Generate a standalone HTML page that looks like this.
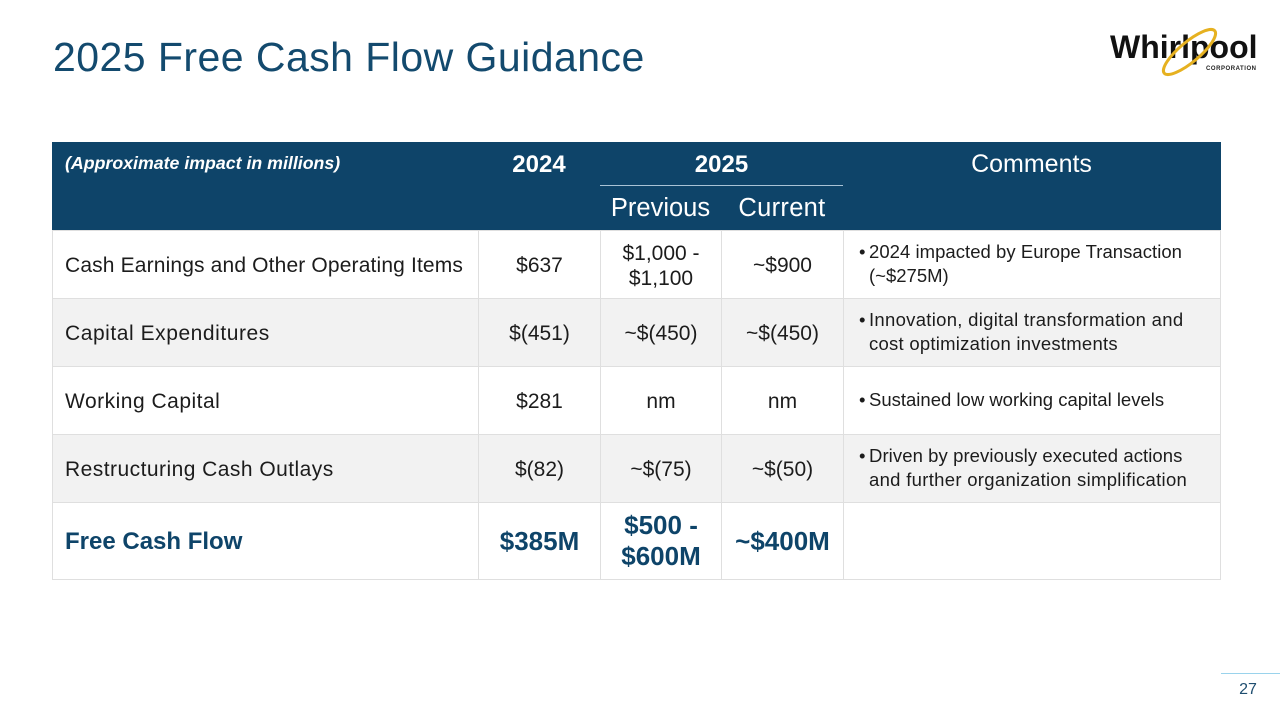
<!DOCTYPE html>
<html lang="en">
<head>
<meta charset="utf-8">
<title>2025 Free Cash Flow Guidance</title>
<style>
html,body{margin:0;padding:0;background:#fff;}
#slide{position:relative;width:1280px;height:720px;overflow:hidden;background:#fff;font-family:"Liberation Sans",sans-serif;color:#1c1c1c;}
#slide div,#slide span{box-sizing:border-box;}
.abs{position:absolute;}
.cell{position:absolute;display:flex;align-items:center;justify-content:center;text-align:center;border:1px solid #dfdfdf;font-size:21px;line-height:25px;padding-top:2px;}
.shade{background:#f2f2f2;}
.label{justify-content:flex-start;text-align:left;padding-left:12px;}
.fcf{color:#0e4469;font-weight:bold;font-size:26px;line-height:31px;padding-top:0;}
.fcf.label{font-size:24px;}
.hd{position:absolute;color:#fff;text-align:center;white-space:nowrap;}
.cm{position:absolute;left:859px;font-size:18.5px;line-height:24px;white-space:nowrap;color:#1c1c1c;}
.cm b{font-weight:normal;display:inline-block;width:10px;}
.cm i{font-style:normal;padding-left:10px;}
</style>
</head>
<body>
<div id="slide">
  <div class="abs" style="left:53px;top:31px;font-size:41px;line-height:52px;color:#134a6e;white-space:nowrap;letter-spacing:.46px;">2025 Free Cash Flow Guidance</div>

  <svg class="abs" style="left:1100px;top:20px;" width="170" height="64" viewBox="0 0 170 64">
    <text x="10" y="38" font-family="Liberation Sans, sans-serif" font-size="32" font-weight="bold" fill="#111">Whirlpool</text>
    <ellipse cx="89.5" cy="32" rx="33" ry="10" transform="rotate(-40 89.5 32)" fill="none" stroke="#e6b120" stroke-width="3"/>
    <text x="106" y="50" font-family="Liberation Sans, sans-serif" font-size="6" font-weight="bold" fill="#222" textLength="50">CORPORATION</text>
  </svg>

  <div class="abs" style="left:52px;top:142px;width:1169px;height:89px;background:#0e4469;"></div>
  <div class="hd" style="left:65px;top:152px;font-size:17.75px;line-height:22px;font-weight:bold;font-style:italic;">(Approximate impact in millions)</div>
  <div class="hd" style="left:478px;width:122px;top:150px;font-size:24px;line-height:30px;font-weight:bold;">2024</div>
  <div class="hd" style="left:600px;width:243px;top:150px;font-size:24px;line-height:30px;font-weight:bold;">2025</div>
  <div class="abs" style="left:600px;top:185px;width:243px;height:1px;background:#a9c3d6;"></div>
  <div class="hd" style="left:843px;width:377px;top:149px;font-size:25px;line-height:30px;">Comments</div>
  <div class="hd" style="left:600px;width:121px;top:193px;font-size:25.5px;line-height:30px;">Previous</div>
  <div class="hd" style="left:721px;width:122px;top:193px;font-size:25.5px;line-height:30px;letter-spacing:.3px;">Current</div>

  <!-- Row 1 -->
  <div class="cell label" style="left:52px;top:230px;width:427px;height:69px;letter-spacing:.15px;">Cash Earnings and Other Operating Items</div>
  <div class="cell" style="left:478px;top:230px;width:123px;height:69px;">$637</div>
  <div class="cell" style="left:600px;top:230px;width:122px;height:69px;">$1,000 -<br>$1,100</div>
  <div class="cell" style="left:721px;top:230px;width:123px;height:69px;">~$900</div>
  <div class="cell" style="left:843px;top:230px;width:378px;height:69px;"></div>
  <div class="cm" style="top:240px;"><b>•</b><span style="letter-spacing:.04px;">2024 impacted by Europe Transaction</span><br><i>(~$275M)</i></div>

  <!-- Row 2 -->
  <div class="cell label shade" style="left:52px;top:298px;width:427px;height:69px;letter-spacing:.55px;">Capital Expenditures</div>
  <div class="cell shade" style="left:478px;top:298px;width:123px;height:69px;">$(451)</div>
  <div class="cell shade" style="left:600px;top:298px;width:122px;height:69px;">~$(450)</div>
  <div class="cell shade" style="left:721px;top:298px;width:123px;height:69px;">~$(450)</div>
  <div class="cell shade" style="left:843px;top:298px;width:378px;height:69px;"></div>
  <div class="cm" style="top:308px;"><b>•</b><span style="letter-spacing:.29px;">Innovation, digital transformation and</span><br><i style="letter-spacing:.25px;">cost optimization investments</i></div>

  <!-- Row 3 -->
  <div class="cell label" style="left:52px;top:366px;width:427px;height:69px;letter-spacing:.5px;">Working Capital</div>
  <div class="cell" style="left:478px;top:366px;width:123px;height:69px;">$281</div>
  <div class="cell" style="left:600px;top:366px;width:122px;height:69px;">nm</div>
  <div class="cell" style="left:721px;top:366px;width:123px;height:69px;">nm</div>
  <div class="cell" style="left:843px;top:366px;width:378px;height:69px;"></div>
  <div class="cm" style="top:388px;"><b>•</b>Sustained low working capital levels</div>

  <!-- Row 4 -->
  <div class="cell label shade" style="left:52px;top:434px;width:427px;height:69px;letter-spacing:.46px;">Restructuring Cash Outlays</div>
  <div class="cell shade" style="left:478px;top:434px;width:123px;height:69px;">$(82)</div>
  <div class="cell shade" style="left:600px;top:434px;width:122px;height:69px;">~$(75)</div>
  <div class="cell shade" style="left:721px;top:434px;width:123px;height:69px;">~$(50)</div>
  <div class="cell shade" style="left:843px;top:434px;width:378px;height:69px;"></div>
  <div class="cm" style="top:444px;"><b>•</b><span style="letter-spacing:.08px;">Driven by previously executed actions</span><br><i style="letter-spacing:.3px;">and further organization simplification</i></div>

  <!-- Row 5 -->
  <div class="cell label fcf" style="left:52px;top:502px;width:427px;height:78px;">Free Cash Flow</div>
  <div class="cell fcf" style="left:478px;top:502px;width:123px;height:78px;">$385M</div>
  <div class="cell fcf" style="left:600px;top:502px;width:122px;height:78px;">$500 -<br>$600M</div>
  <div class="cell fcf" style="left:721px;top:502px;width:123px;height:78px;">~$400M</div>
  <div class="cell" style="left:843px;top:502px;width:378px;height:78px;"></div>

  <div class="abs" style="left:1221px;top:673px;width:59px;height:1px;background:#9ad3ec;"></div>
  <div class="abs" style="left:1221px;width:54px;text-align:center;top:680px;font-size:16px;line-height:20px;color:#1f4e70;">27</div>
</div>
</body>
</html>
